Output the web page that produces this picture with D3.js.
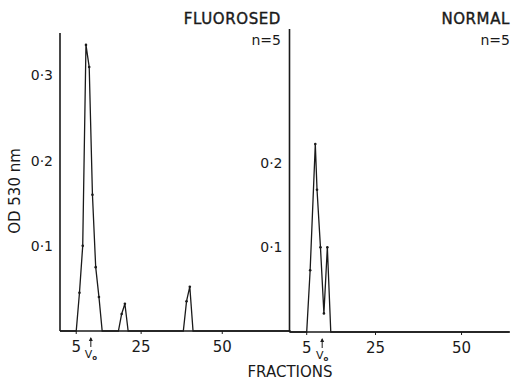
<!DOCTYPE html>
<html>
<head>
<meta charset="utf-8">
<script src="https://cdn.jsdelivr.net/npm/d3@7"></script>
<style>
  body { margin: 0; background: #fff; }
  text { font-family: 'DejaVu Sans', sans-serif; fill: #1a1a1a; }
</style>
</head>
<body>
<div class="chart"></div>
<script>
// fluorosed panel (left)
var fluoroFractions = [0, 5, 6, 7, 8, 9, 10, 11, 12, 13, 18, 19, 20, 21, 38, 39, 40, 41, 71];
var fluoroOD = [0, 0, 0.045, 0.1, 0.336, 0.31, 0.16, 0.075, 0.04, 0, 0, 0.02, 0.032, 0, 0, 0.035, 0.052, 0, 0];
// normal panel (right)
var normalFractions = [0, 5, 6, 7.5, 8, 9, 10, 11, 12, 64];
var normalOD = [0, 0, 0.073, 0.222, 0.168, 0.1, 0.022, 0.1, 0, 0];

var xTicks = [5, 25, 50];
var fluoroYTicks = [0.1, 0.2, 0.3];
var normalYTicks = [0.1, 0.2];
var voFraction = 9.5;

var svg = d3.select('.chart')
  .append('svg')
  .attr('width', 512)
  .attr('height', 383);

var ink = '#1a1a1a';
var fmt = function(d) { return d3.format('.1f')(d).replace('.', '\u00b7'); };

function panel(opts) {
  var x = d3.scaleLinear().domain(opts.xDomain).range(opts.xRange);
  var y = d3.scaleLinear().domain(opts.yDomain).range(opts.yRange);
  var g = svg.append('g');

  // y axis line
  g.append('line')
    .attr('x1', x(0)).attr('x2', x(0))
    .attr('y1', y(0)).attr('y2', y(opts.yDomain[1]))
    .attr('stroke', ink).attr('stroke-width', 1.6);

  // baseline
  g.append('line')
    .attr('x1', x(0)).attr('x2', x(opts.xDomain[1]))
    .attr('y1', y(0)).attr('y2', y(0))
    .attr('stroke', ink).attr('stroke-width', 1.3);

  // y tick labels
  g.selectAll('.ylab')
    .data(opts.yTicks)
    .enter()
    .append('text')
    .attr('x', x(0) - 7)
    .attr('y', function(d) { return y(d); })
    .attr('dy', '0.35em')
    .attr('text-anchor', 'end')
    .style('font-size', '14px')
    .text(fmt);

  // x tick marks + labels
  g.selectAll('.xtick')
    .data(xTicks)
    .enter()
    .append('line')
    .attr('x1', function(d) { return x(d); })
    .attr('x2', function(d) { return x(d); })
    .attr('y1', y(0)).attr('y2', y(0) + 3)
    .attr('stroke', ink).attr('stroke-width', 1);

  g.selectAll('.xlab')
    .data(xTicks)
    .enter()
    .append('text')
    .attr('x', function(d) { return x(d); })
    .attr('y', y(0) + 21)
    .attr('text-anchor', 'middle')
    .style('font-size', '15px')
    .text(function(d) { return d; });

  // Vo marker
  var vx = x(voFraction);
  g.append('line')
    .attr('x1', vx).attr('x2', vx)
    .attr('y1', y(0) + 7).attr('y2', y(0) + 16)
    .attr('stroke', ink).attr('stroke-width', 1);
  g.append('path')
    .attr('d', 'M' + (vx - 2) + ',' + (y(0) + 10) + 'L' + vx + ',' + (y(0) + 6) + 'L' + (vx + 2) + ',' + (y(0) + 10) + 'Z')
    .attr('fill', ink);
  var vt = g.append('text')
    .attr('x', vx)
    .attr('y', y(0) + 27)
    .attr('text-anchor', 'middle')
    .style('font-size', '11px');
  vt.append('tspan').text('V');
  vt.append('tspan').attr('dy', 2).style('font-size', '7px').style('font-weight', 'bold').text('o');

  // data line
  var pts = opts.fractions.map(function(f, i) { return [f, opts.od[i]]; });
  var line = d3.line()
    .x(function(d) { return x(d[0]); })
    .y(function(d) { return y(d[1]); });
  g.append('path')
    .datum(pts)
    .attr('d', line)
    .attr('fill', 'none')
    .attr('stroke', ink)
    .attr('stroke-width', 1.3)
    .attr('stroke-linejoin', 'miter');

  g.selectAll('.dot')
    .data(pts.filter(function(d) { return d[1] > 0; }))
    .enter()
    .append('circle')
    .attr('cx', function(d) { return x(d[0]); })
    .attr('cy', function(d) { return y(d[1]); })
    .attr('r', 1.3)
    .attr('fill', ink);

  // titles
  g.append('text')
    .attr('x', opts.titleRight)
    .attr('y', 24)
    .attr('text-anchor', 'end')
    .style('font-size', '15px')
    .style('letter-spacing', '0.6px')
    .style('stroke', ink)
    .style('stroke-width', 0.4)
    .text(opts.title);
  g.append('text')
    .attr('x', opts.titleRight)
    .attr('y', 45)
    .attr('text-anchor', 'end')
    .style('font-size', '14px')
    .text('n=5');
}

panel({
  fractions: fluoroFractions, od: fluoroOD, yTicks: fluoroYTicks,
  xDomain: [0, 71], xRange: [60, 290.4],
  yDomain: [0, 0.35], yRange: [331, 33],
  title: 'FLUOROSED', titleRight: 281
});

panel({
  fractions: normalFractions, od: normalOD, yTicks: normalYTicks,
  xDomain: [0, 64], xRange: [289.5, 509.7],
  yDomain: [0, 0.358], yRange: [332, 29],
  title: 'NORMAL', titleRight: 510
});

// axis titles
svg.append('text')
  .attr('transform', 'translate(20,191) rotate(-90)')
  .attr('text-anchor', 'middle')
  .style('font-size', '15px')
  .text('OD 530 nm');

svg.append('text')
  .attr('x', 290)
  .attr('y', 377)
  .attr('text-anchor', 'middle')
  .style('font-size', '15px')
  .text('FRACTIONS');
</script>
</body>
</html>
